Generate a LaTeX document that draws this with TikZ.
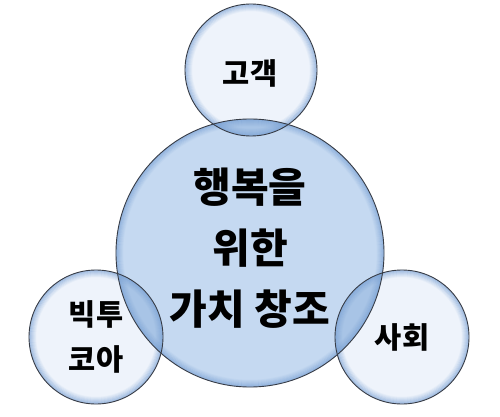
\documentclass[tikz,border=0pt]{standalone}
\usepackage{fontspec}
\setmainfont{Noto Sans CJK KR}
\definecolor{bigfill}{RGB}{197,217,241}
\definecolor{smallfill}{RGB}{238,243,251}
\definecolor{overfill}{RGB}{168,196,230}
\definecolor{rim}{RGB}{120,160,212}
\definecolor{edge}{RGB}{55,60,70}
\tikzset{
  glow/.style={line width=1.3pt, draw=rim, draw opacity=#1},
  outline/.style={draw=edge, line width=0.9pt},
  bigtxt/.style={font=\bfseries\fontsize{41}{61}\selectfont, align=center, inner sep=0pt},
  smalltxt/.style={font=\bfseries\fontsize{29.5}{45}\selectfont, align=center, inner sep=0pt}
}
\newcommand{\rimglow}[3]{%
  \foreach \i/\o in {1/0.55,2/0.45,3/0.36,4/0.28,5/0.2,6/0.13,7/0.07}{%
    \draw[glow=\o] (#1,#2) circle[radius=#3pt-\i pt+0.4pt];}}
\begin{document}
\begin{tikzpicture}[x=1pt,y=-1pt]
\useasboundingbox (0,0) rectangle (500,417);
\fill[white] (0,0) rectangle (500,417);
% fills
\fill[bigfill] (250,253) circle[radius=134pt];
\fill[smallfill] (251,70) circle[radius=66pt];
\fill[smallfill] (96,337) circle[radius=67pt];
\fill[smallfill] (402,337) circle[radius=67pt];
% overlaps
\begin{scope}
  \clip (250,253) circle[radius=134pt];
  \fill[overfill] (251,70) circle[radius=66pt];
  \fill[overfill] (96,337) circle[radius=67pt];
  \fill[overfill] (402,337) circle[radius=67pt];
\end{scope}
% rim glows
\rimglow{250}{253}{134}
\rimglow{251}{70}{66}
\rimglow{96}{337}{67}
\rimglow{402}{337}{67}
% outlines
\draw[outline] (250,253) circle[radius=134pt];
\draw[outline] (251,70) circle[radius=66pt];
\draw[outline] (96,337) circle[radius=67pt];
\draw[outline] (402,337) circle[radius=67pt];
% texts
\node[bigtxt] (core) at (250,248) {행복을\\위한\\가치 창조};
\node[smalltxt] (cust) at (250,73) {고객};
\node[smalltxt] (vic) at (96,337) {빅투\\코아};
\node[smalltxt] (soc) at (402,337) {사회};
\end{tikzpicture}
\end{document}
